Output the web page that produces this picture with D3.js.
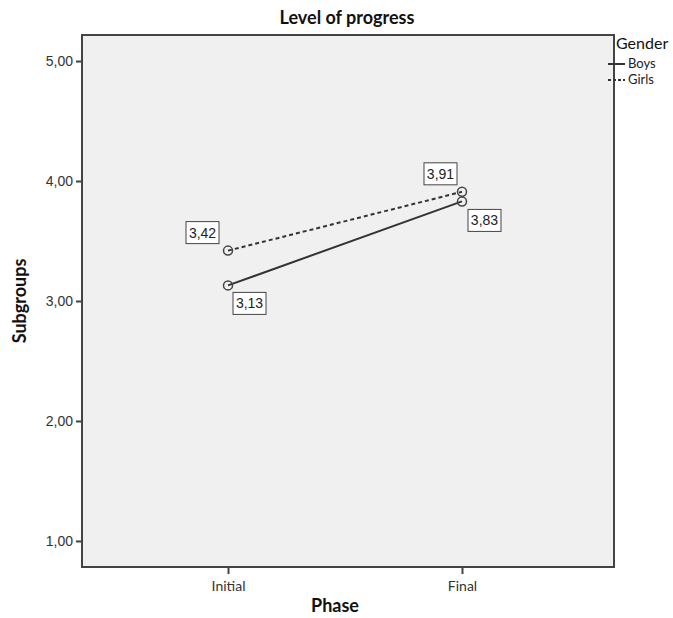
<!DOCTYPE html>
<html>
<head>
<meta charset="utf-8">
<script src="https://cdn.jsdelivr.net/npm/d3@7"></script>
<style>
  body { margin: 0; background: #fff; }
</style>
</head>
<body>
<div id="chart"></div>
<script>
"use strict";

// data
var phases = ["Initial", "Final"];
var boys = [3.13, 3.83];
var girls = [3.42, 3.91];
var yTicks = [1, 2, 3, 4, 5];

var w = 673, h = 618;
var m = { top: 35, right: 59, bottom: 51, left: 82 };
var pw = w - m.left - m.right, ph = h - m.top - m.bottom;

var svg = d3.select("#chart").append("svg")
  .attr("width", w)
  .attr("height", h);

var x = d3.scalePoint().domain(phases).range([0, pw - 6]).padding(0.624);
var y = d3.scaleLinear().domain([0.783, 5.217]).range([ph, 0]);

var fmt = function (d) { return d3.format(".2f")(d).replace(".", ","); };

// title
svg.append("text")
  .attr("x", 347).attr("y", 24)
  .attr("text-anchor", "middle")
  .attr("font-family", "Lato, sans-serif")
  .attr("font-weight", "bold")
  .attr("font-size", 18)
  .attr("fill", "#111")
  .text("Level of progress");

var g = svg.append("g").attr("transform", "translate(" + m.left + "," + m.top + ")");

g.append("rect")
  .attr("width", pw).attr("height", ph)
  .attr("fill", "#f0f0f0");

// axes
var yAxis = g.append("g")
  .call(d3.axisLeft(y).tickValues(yTicks).tickFormat(fmt).tickSize(6).tickPadding(3));
var xAxis = g.append("g")
  .attr("transform", "translate(0," + ph + ")")
  .call(d3.axisBottom(x).tickSize(7).tickPadding(7));

[yAxis, xAxis].forEach(function (a) {
  a.select(".domain").remove();
  a.selectAll("line").attr("stroke", "#444").attr("stroke-width", 2);
  a.selectAll("text").attr("fill", "#333")
    .attr("font-family", "'Liberation Sans', Arial, sans-serif");
});
yAxis.selectAll("text").attr("font-size", 14);
xAxis.selectAll("text").attr("font-size", 14)
  .attr("font-family", "Lato, sans-serif");

g.append("rect")
  .attr("width", pw).attr("height", ph)
  .attr("fill", "none")
  .attr("stroke", "#444")
  .attr("stroke-width", 2);

// axis titles
svg.append("text")
  .attr("x", m.left + pw / 2 - 13).attr("y", 612)
  .attr("text-anchor", "middle")
  .attr("font-family", "Lato, sans-serif")
  .attr("font-weight", "bold")
  .attr("font-size", 18)
  .attr("fill", "#111")
  .text("Phase");

svg.append("text")
  .attr("transform", "translate(26," + (m.top + ph / 2) + ") rotate(-90)")
  .attr("text-anchor", "middle")
  .attr("font-family", "Lato, sans-serif")
  .attr("font-weight", "bold")
  .attr("font-size", 18)
  .attr("fill", "#111")
  .text("Subgroups");

// series
var series = [
  { name: "Boys", values: boys, dash: null,
    labelDx: [5, 6], labelDy: [7, 8] },
  { name: "Girls", values: girls, dash: "4,3",
    labelDx: [-42, -38], labelDy: [-29, -29] }
];

var line = d3.line()
  .x(function (d, i) { return x(phases[i]); })
  .y(function (d) { return y(d); });

series.forEach(function (s) {
  g.append("path")
    .datum(s.values)
    .attr("d", line)
    .attr("fill", "none")
    .attr("stroke", "#333")
    .attr("stroke-width", 2)
    .attr("stroke-dasharray", s.dash);

  g.selectAll(null)
    .data(s.values)
    .enter()
    .append("circle")
    .attr("cx", function (d, i) { return x(phases[i]); })
    .attr("cy", function (d) { return y(d); })
    .attr("r", 4.5)
    .attr("fill", "none")
    .attr("stroke", "#444")
    .attr("stroke-width", 1.5);

  var lab = g.selectAll(null)
    .data(s.values)
    .enter()
    .append("g")
    .attr("transform", function (d, i) {
      return "translate(" + (x(phases[i]) + s.labelDx[i]) + "," + (y(d) + s.labelDy[i]) + ")";
    });
  lab.append("rect")
    .attr("width", 33).attr("height", 22)
    .attr("fill", "#fff")
    .attr("stroke", "#444")
    .attr("stroke-width", 1);
  lab.append("text")
    .attr("x", 16.5).attr("y", 16)
    .attr("text-anchor", "middle")
    .attr("font-family", "'Liberation Sans', Arial, sans-serif")
    .attr("font-size", 14)
    .attr("fill", "#222")
    .text(function (d) { return fmt(d); });
});

// legend
var lg = svg.append("g").attr("transform", "translate(617,0)");
lg.append("text")
  .attr("x", -1).attr("y", 49)
  .attr("font-family", "Lato, sans-serif")
  .attr("font-size", 16)
  .attr("fill", "#111")
  .text("Gender");
series.forEach(function (s, i) {
  var yy = 64 + i * 16;
  lg.append("line")
    .attr("x1", -9).attr("x2", 8)
    .attr("y1", yy).attr("y2", yy)
    .attr("stroke", "#333")
    .attr("stroke-width", 2)
    .attr("stroke-dasharray", s.dash ? "3,2" : null);
  lg.append("text")
    .attr("x", 11).attr("y", yy + 4)
    .attr("font-family", "Lato, sans-serif")
    .attr("font-size", 13)
    .attr("fill", "#222")
    .text(s.name);
});
</script>
</body>
</html>
